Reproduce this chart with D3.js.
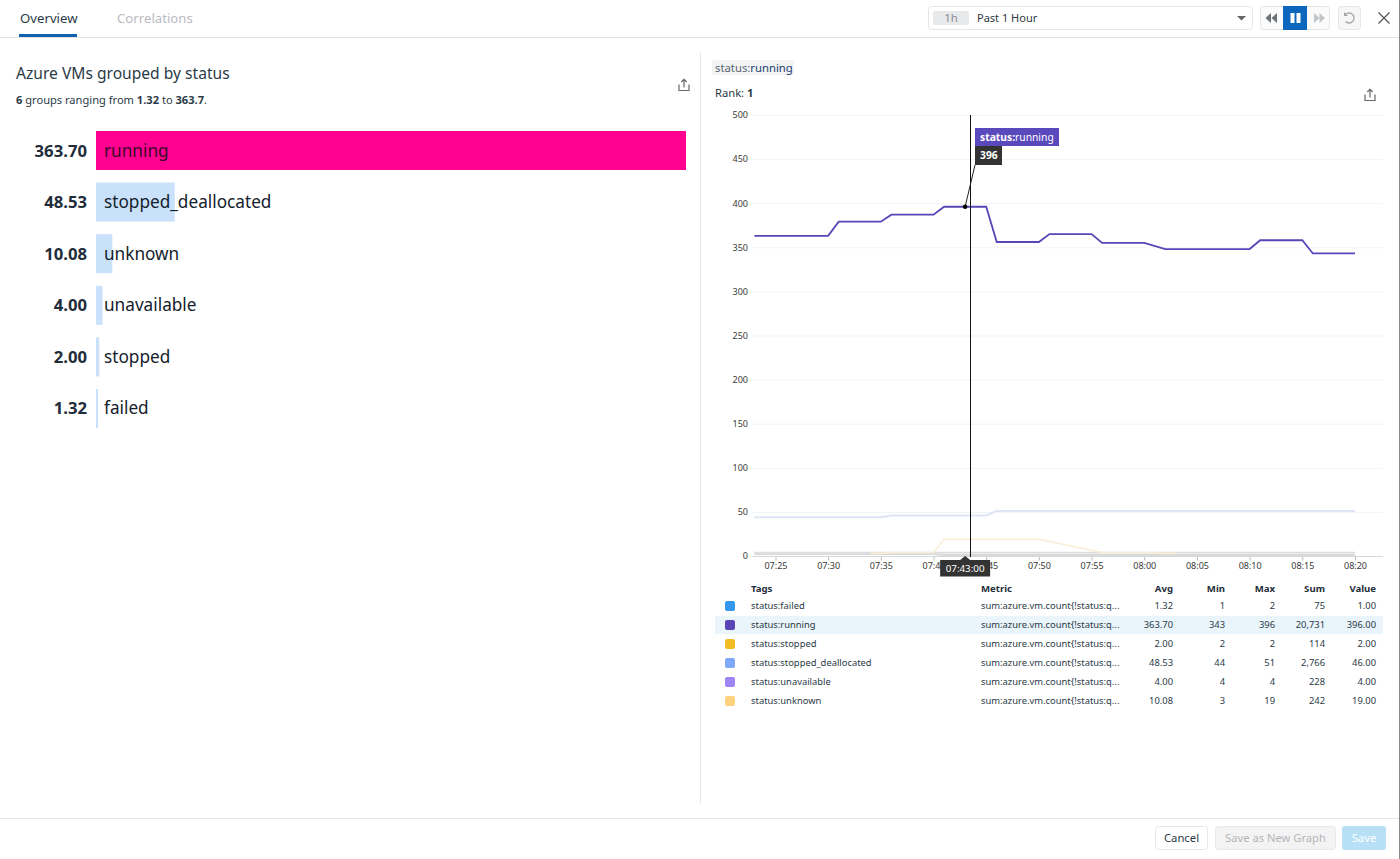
<!DOCTYPE html>
<html>
<head>
<meta charset="utf-8">
<title>Azure VMs grouped by status</title>
<script src="https://cdn.jsdelivr.net/npm/d3@7"></script>
<style>
  html, body { margin: 0; padding: 0; background: #fff; overflow: hidden; }
  svg { display: block; font-family: "Noto Sans", sans-serif; }
  .axis text { font-family: "Noto Sans", sans-serif; font-size: 9px; fill: #3a3a3a; }
</style>
</head>
<body>
<div id="chart"></div>
<script>
// ranked bars on the left
const groupNames = ['running', 'stopped_deallocated', 'unknown', 'unavailable', 'stopped', 'failed'];
const groupValues = [363.7, 48.53, 10.08, 4.0, 2.0, 1.32];

// timeseries, one sample per minute (08:01 has no sample)
const times = [
  '07:23', '07:24', '07:25', '07:26', '07:27', '07:28', '07:29', '07:30', '07:31', '07:32',
  '07:33', '07:34', '07:35', '07:36', '07:37', '07:38', '07:39', '07:40', '07:41', '07:42',
  '07:43', '07:44', '07:45', '07:46', '07:47', '07:48', '07:49', '07:50', '07:51', '07:52',
  '07:53', '07:54', '07:55', '07:56', '07:57', '07:58', '07:59', '08:00', '08:02', '08:03',
  '08:04', '08:05', '08:06', '08:07', '08:08', '08:09', '08:10', '08:11', '08:12', '08:13',
  '08:14', '08:15', '08:16', '08:17', '08:18', '08:19', '08:20'
];
const running = [
  363, 363, 363, 363, 363, 363, 363, 363, 379, 379,
  379, 379, 379, 387, 387, 387, 387, 387, 396, 396,
  396, 396, 396, 356, 356, 356, 356, 356, 365, 365,
  365, 365, 365, 355, 355, 355, 355, 355, 348, 348,
  348, 348, 348, 348, 348, 348, 348, 358, 358, 358,
  358, 358, 343, 343, 343, 343, 343
];
const stoppedDeallocated = [
  44, 44, 44, 44, 44, 44, 44, 44, 44, 44,
  44, 44, 44, 46, 46, 46, 46, 46, 46, 46,
  46, 46, 46, 51, 51, 51, 51, 51, 51, 51,
  51, 51, 51, 51, 51, 51, 51, 51, 51, 51,
  51, 51, 51, 51, 51, 51, 51, 51, 51, 51,
  51, 51, 51, 51, 51, 51, 51
];
// unknown only reports part of the hour, missing minutes are bridged by the line
const unknown = [
  null, null, null, null, null, null, null, null, null, null,
  null, 3, 3, 4, 4, 4, 4, 4, 19, 19,
  19, 19, 19, 19, 19, 19, 19, 19, null, null,
  null, null, null, 4, 4, 4, 4, 4, 3, 3,
  null, null, null, null, null, null, null, null, null, null,
  null, null, null, null, null, null, null
];
const unavailable = [
  4, 4, 4, 4, 4, 4, 4, 4, 4, 4,
  4, 4, 4, 4, 4, 4, 4, 4, 4, 4,
  4, 4, 4, 4, 4, 4, 4, 4, 4, 4,
  4, 4, 4, 4, 4, 4, 4, 4, 4, 4,
  4, 4, 4, 4, 4, 4, 4, 4, 4, 4,
  4, 4, 4, 4, 4, 4, 4
];
const stopped = [
  2, 2, 2, 2, 2, 2, 2, 2, 2, 2,
  2, 2, 2, 2, 2, 2, 2, 2, 2, 2,
  2, 2, 2, 2, 2, 2, 2, 2, 2, 2,
  2, 2, 2, 2, 2, 2, 2, 2, 2, 2,
  2, 2, 2, 2, 2, 2, 2, 2, 2, 2,
  2, 2, 2, 2, 2, 2, 2
];
const failed = [
  2, 2, 2, 2, 2, 2, 2, 2, 2, 2,
  2, 2, 2, 2, 2, 2, 2, 2, 1, 1,
  1, 1, 1, 1, 1, 1, 1, 1, 1, 1,
  1, 1, 1, 1, 1, 1, 1, 1, 1, 1,
  1, 1, 1, 1, 1, 1, 1, 1, 1, 1,
  1, 1, 1, 1, 1, 1, 1
];
const xTickLabels = ['07:25', '07:30', '07:35', '07:40', '07:45', '07:50', '07:55', '08:00', '08:05', '08:10', '08:15', '08:20'];
const yTickValues = [0, 50, 100, 150, 200, 250, 300, 350, 400, 450, 500];

// legend table
const tableHeaders = ['Avg', 'Min', 'Max', 'Sum', 'Value'];
const tableTags = ['status:failed', 'status:running', 'status:stopped', 'status:stopped_deallocated', 'status:unavailable', 'status:unknown'];
const tableColors = ['#3598ec', '#5a45b8', '#f2bd24', '#7fa8fb', '#a083f5', '#fdd17e'];
const tableAvg = ['1.32', '363.70', '2.00', '48.53', '4.00', '10.08'];
const tableMin = ['1', '343', '2', '44', '4', '3'];
const tableMax = ['2', '396', '2', '51', '4', '19'];
const tableSum = ['75', '20,731', '114', '2,766', '228', '242'];
const tableValue = ['1.00', '396.00', '2.00', '46.00', '4.00', '19.00'];
const metricLabel = 'sum:azure.vm.count{!status:q...';

const hoverTime = '07:43';
const hoverValue = 396;

const parseTime = d3.timeParse('%H:%M');
const svg = d3.select('#chart').append('svg').attr('width', 1400).attr('height', 859);

function label(x, y, text, size, fill, weight, anchor) {
  return svg.append('text')
    .attr('x', x).attr('y', y)
    .attr('font-size', size)
    .attr('fill', fill || '#333')
    .attr('font-weight', weight || 400)
    .attr('text-anchor', anchor || 'start')
    .text(text);
}

function box(x, y, w, h, fill, stroke, r) {
  return svg.append('rect')
    .attr('x', x).attr('y', y).attr('width', w).attr('height', h)
    .attr('rx', r || 0)
    .attr('fill', fill || 'none')
    .attr('stroke', stroke || 'none');
}

function rule(x1, y1, x2, y2, stroke, width) {
  return svg.append('line')
    .attr('x1', x1).attr('y1', y1).attr('x2', x2).attr('y2', y2)
    .attr('stroke', stroke).attr('stroke-width', width || 1);
}

function shape(d, fill, stroke, width) {
  return svg.append('path')
    .attr('d', d)
    .attr('fill', fill || 'none')
    .attr('stroke', stroke || 'none')
    .attr('stroke-width', width || 1);
}

function shareIcon(x, y) {
  shape(`M${x - 5} ${y - 1.5}v6h10v-6`, 'none', '#666', 1.2);
  shape(`M${x} ${y + 1.5}v-8M${x - 2.7} ${y - 4}l2.7-2.7l2.7 2.7`, 'none', '#666', 1.2);
}

// ---- top bar ----
rule(0, 37.5, 1400, 37.5, '#dfe1e3');
box(19, 34, 58, 3, '#0f62ae');
label(20, 23, 'Overview', 13.2, '#2b3a47');
label(117, 23, 'Correlations', 13.2, '#b9bcbf');

box(928.5, 6.5, 324, 23, '#fff', '#e4e6e8', 3);
box(933, 11, 36, 14, '#e8e9ea', null, 2);
label(951, 22, '1h', 11.5, '#8b8f93', 400, 'middle');
label(977, 22, 'Past 1 Hour', 11, '#2f3a44');
shape('M1237 16h9l-4.5 4.5z', '#666');

box(1260.5, 6.5, 69, 23, '#fbfbfb', '#e4e6e8', 3);
box(1283, 6, 24, 24, '#0a67bd');
shape('M1271 13v10l-5.5-5zM1277 13v10l-5.5-5z', '#6d7276');
box(1290.5, 13, 4, 10, '#fff');
box(1296.5, 13, 4, 10, '#fff');
shape('M1314 13v10l5.5-5zM1319.5 13v10l5.5-5z', '#c3c6c9');
box(1338.5, 6.5, 22, 23, '#f6f6f6', '#e4e6e8', 3);
shape('M1345.5 14.5a5 5 0 1 1 -0 7', 'none', '#a4a7aa', 1.3);
shape('M1344 12v4h4z', '#a4a7aa');
shape('M1378.5 12.5l11 11M1389.5 12.5l-11 11', 'none', '#555', 1.2);

// ---- ranked bars ----
label(16, 79, 'Azure VMs grouped by status', 15.6, '#2b3a47');
const subtitle = label(16, 104, '', 11.1, '#2b3a47');
[['6', 700], [' groups ranging from ', 400], ['1.32', 700], [' to ', 400], ['363.7', 700], ['.', 400]]
  .forEach(([t, w]) => subtitle.append('tspan').attr('font-weight', w).text(t));
shareIcon(684, 86);

const barX = d3.scaleLinear().domain([0, d3.max(groupValues)]).range([96, 686]);
const barY = d3.scaleBand().domain(groupNames).range([131, 428]).paddingInner(0.244);

svg.append('g').selectAll('rect').data(groupNames).join('rect')
  .attr('x', barX(0))
  .attr('y', d => barY(d))
  .attr('width', (d, i) => barX(groupValues[i]) - barX(0))
  .attr('height', barY.bandwidth())
  .attr('fill', (d, i) => i === 0 ? '#ff0090' : '#c9e1fb');

groupNames.forEach((name, i) => {
  const y = barY(name) + barY.bandwidth() / 2 + 6;
  label(87, y, groupValues[i].toFixed(2), 16.7, '#1f2d3a', 700, 'end');
  label(104, y, name, 17.2, i === 0 ? '#3a0a28' : '#14202b');
});

// ---- timeseries panel ----
rule(700.5, 52, 700.5, 804, '#e6e7e8');
box(712, 60, 82, 15, '#f1f3f5', null, 2);
const chip = label(715, 71.5, '', 11.3, '#5b6670');
chip.append('tspan').text('status:');
chip.append('tspan').attr('fill', '#24406e').text('running');
const rank = label(715, 96.5, 'Rank: ', 11.2, '#2b3a47');
rank.append('tspan').attr('font-weight', 700).text('1');
shareIcon(1370, 96);

const x = d3.scaleTime()
  .domain([parseTime(times[0]), parseTime(times[times.length - 1])])
  .range([754.4, 1355]);
const y = d3.scaleLinear().domain([0, 500]).range([556, 115]);

const plotLeft = 752;
const plotRight = 1383;

svg.append('g').selectAll('line').data(yTickValues.slice(1)).join('line')
  .attr('x1', plotLeft).attr('x2', plotRight)
  .attr('y1', d => y(d) + 0.5).attr('y2', d => y(d) + 0.5)
  .attr('stroke', '#f2f3f4');

svg.append('g')
  .attr('class', 'axis')
  .attr('transform', `translate(${plotLeft - 4},0)`)
  .call(d3.axisLeft(y).tickValues(yTickValues).tickSize(0).tickPadding(0))
  .call(g => g.select('.domain').remove());

svg.append('g')
  .attr('class', 'axis')
  .attr('transform', 'translate(0,556.5)')
  .call(d3.axisBottom(x)
    .tickValues(xTickLabels.map(parseTime))
    .tickFormat(d3.timeFormat('%H:%M'))
    .tickSize(4)
    .tickPadding(2)
    .tickSizeOuter(0))
  .call(g => g.select('.domain').remove())
  .call(g => g.selectAll('line').attr('stroke', '#b9bcbf'));
rule(plotLeft, 556.5, plotRight, 556.5, '#d6d8da');

const line = d3.line()
  .x(d => x(d.time))
  .y(d => y(d.value));

const toPoints = values => values
  .map((value, i) => ({ time: parseTime(times[i]), value }))
  .filter(d => d.value !== null);

// the series that are not highlighted stay faded, the hovered one on top
const fadedSeries = [
  { values: stoppedDeallocated, color: '#dfe5f5', width: 2 },
  { values: unavailable, color: '#dedce2', width: 1.6 },
  { values: stopped, color: '#e2e0da', width: 1.6 },
  { values: failed, color: '#d6d8da', width: 1.6 },
  { values: unknown, color: '#f8eed6', width: 1.6 }
];

svg.append('g').selectAll('path').data(fadedSeries).join('path')
  .attr('fill', 'none')
  .attr('stroke', d => d.color)
  .attr('stroke-width', d => d.width)
  .attr('d', d => line(toPoints(d.values)));

svg.append('path')
  .attr('fill', 'none')
  .attr('stroke', '#5a45b8')
  .attr('stroke-width', 1.8)
  .attr('d', line(toPoints(running)));

// crosshair and tooltip
const hoverX = x(parseTime(hoverTime));
const hoverY = y(hoverValue);
rule(970.5, 115, 970.5, 557, '#111', 1);
rule(hoverX, hoverY, 975, 165, '#222', 1);
svg.append('circle').attr('cx', hoverX).attr('cy', hoverY).attr('r', 2.3).attr('fill', '#000');

box(975, 128, 84, 18, '#5a48bd');
const tip = label(980, 141, '', 10.3, '#fff');
tip.append('tspan').attr('font-weight', 700).text('status:');
tip.append('tspan').text('running');
box(975, 146, 27, 19, '#333');
label(980, 159, String(hoverValue), 10.3, '#fff', 700);

// the time flag covers the neighbouring tick labels, as in the product
shape(`M${hoverX - 25} 560h${20}l5 -4l5 4h${20}v16.5h-50z`, '#333');
label(hoverX, 571.5, hoverTime + ':00', 9.8, '#fff', 400, 'middle');

// ---- legend table ----
const rowY = d3.scalePoint().domain(tableTags).range([606, 701]);
const columnX = [1173, 1225, 1275, 1325, 1376];
const columns = [tableAvg, tableMin, tableMax, tableSum, tableValue];

box(715, 616, 668, 18, '#e9f4fb');
label(751, 592, 'Tags', 9.6, '#1f2d3a', 700);
label(981, 592, 'Metric', 9.6, '#1f2d3a', 700);
tableHeaders.forEach((h, c) => label(columnX[c], 592, h, 9.6, '#1f2d3a', 700, 'end'));

tableTags.forEach((tag, i) => {
  const cy = rowY(tag);
  box(725, cy - 5, 10, 10, tableColors[i], null, 2);
  label(751, cy + 3.3, tag, 9.4, '#2b3a47');
  label(981, cy + 3.3, metricLabel, 9.4, '#2b3a47');
  columns.forEach((col, c) => label(columnX[c], cy + 3.3, col[i], 9.4, '#2b3a47', 400, 'end'));
});

// ---- footer ----
rule(0, 818.5, 1400, 818.5, '#e6e7e8');
box(1155.5, 826.5, 52, 23, '#fff', '#e4e6e8', 3);
label(1181.5, 842, 'Cancel', 11.3, '#2b3a47', 400, 'middle');
box(1215.5, 826.5, 120, 23, '#f3f3f3', '#e8e8e8', 3);
label(1275.5, 842, 'Save as New Graph', 11.2, '#b3b6b9', 400, 'middle');
box(1342, 826, 44, 24, '#b7dff5', null, 3);
label(1364, 842, 'Save', 11.3, '#fff', 400, 'middle');

rule(1399.5, 0, 1399.5, 859, '#8a8a8a');
</script>
</body>
</html>
